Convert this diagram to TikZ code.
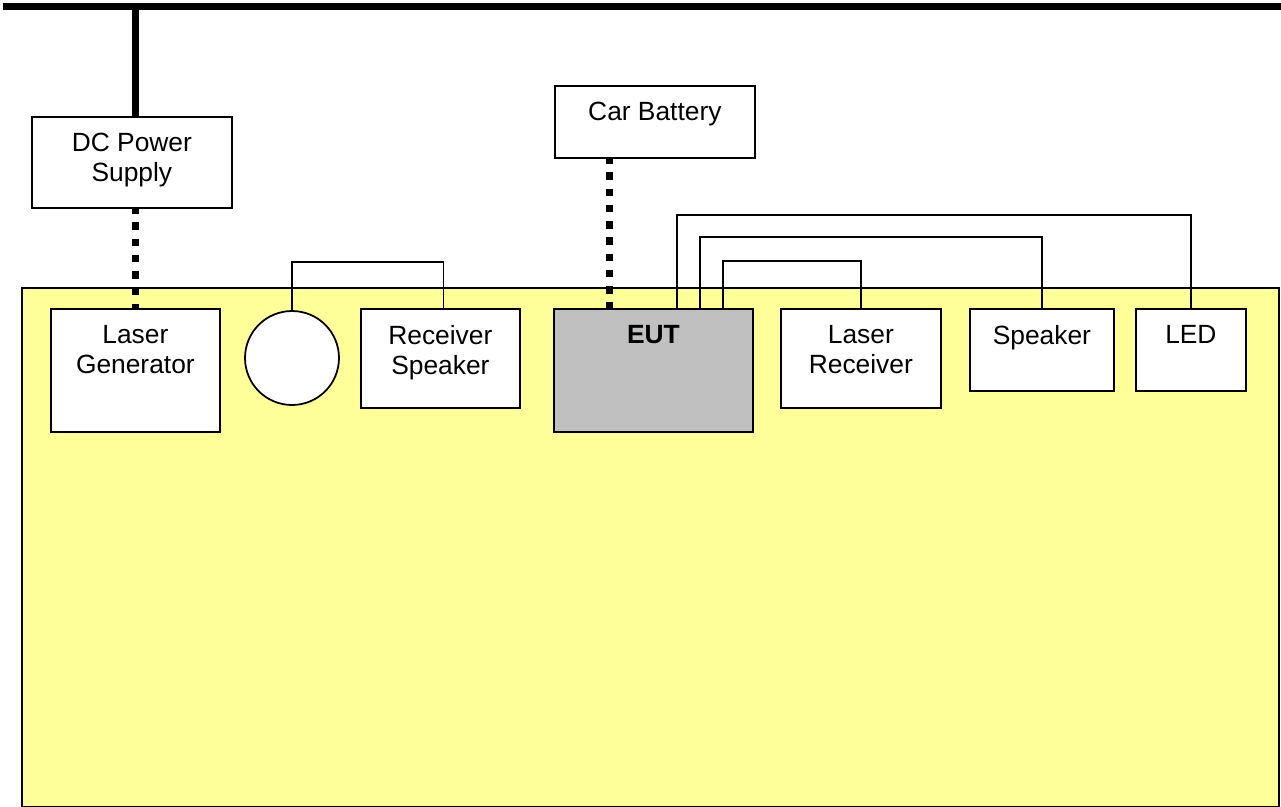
\documentclass[tikz,border=0pt]{standalone}
\usepackage{fontspec}
\setmainfont{Liberation Sans}
\usetikzlibrary{calc}
\definecolor{bench}{HTML}{FFFF99}
\definecolor{eutgray}{HTML}{C0C0C0}
\begin{document}
\begin{tikzpicture}[x=0.02cm,y=-0.02cm,
  box/.style={draw,line width=1pt,fill=white,inner sep=0,anchor=north west},
  lbl/.style={anchor=north,inner sep=0,align=center,font=\fontsize{15}{17}\selectfont},
  wire/.style={line width=0.8pt},
  bus/.style={line width=0.14cm},
  dotline/.style={line width=0.14cm,dash pattern=on 0.15cm off 0.175cm,dash phase=0.05cm}]
\useasboundingbox (0,0) rectangle (1281,807);
\fill[white] (0,0) rectangle (1281,807);
% test bench
\node[draw,fill=bench,line width=1pt,anchor=north west,inner sep=0,
  minimum width=25.14cm,minimum height=10.39cm] (bench) at (21,287) {};
% boxes
\node[box,minimum width=4cm,minimum height=1.82cm] (dc) at (31,116) {};
\node[box,minimum width=4cm,minimum height=1.44cm] (cb) at (554,85) {};
\node[box,minimum width=3.38cm,minimum height=2.46cm] (lg) at (50,308) {};
\node[draw,line width=1pt,fill=white,circle,inner sep=0,minimum size=1.88cm] (mic) at (292,358) {};
\node[box,minimum width=3.18cm,minimum height=1.98cm] (rs) at (360,308) {};
\node[box,fill=eutgray,minimum width=3.98cm,minimum height=2.46cm] (eut) at (553,308) {};
\node[box,minimum width=3.2cm,minimum height=1.98cm] (lr) at (780,308) {};
\node[box,minimum width=2.88cm,minimum height=1.64cm] (spk) at (969,308) {};
\node[box,minimum width=2.2cm,minimum height=1.64cm] (led) at (1135,308) {};
% labels
\node[lbl] (dct) at ([yshift=-0.34cm]dc.north) {DC Power\\Supply};
\node[lbl] (cbt) at ([yshift=-0.34cm]cb.north) {Car Battery};
\node[lbl] (lgt) at ([yshift=-0.34cm]lg.north) {Laser\\Generator};
\node[lbl] (rst) at ([yshift=-0.34cm]rs.north) {Receiver\\Speaker};
\node[lbl] (eutt) at ([yshift=-0.34cm]eut.north) {\textbf{EUT}};
\node[lbl] (lrt) at ([yshift=-0.34cm]lr.north) {Laser\\Receiver};
\node[lbl] (spkt) at ([yshift=-0.34cm]spk.north) {Speaker};
\node[lbl] (ledt) at ([yshift=-0.34cm]led.north) {LED};
% mains bus
\coordinate (busL) at (3,6.5);
\coordinate (busR) at (1281,6.5);
\draw[bus] (busL) -- (busR);
\draw[bus] (lg.north |- dc.north) -- (lg.north |- busL);
% dotted power lines
\draw[dotline] (lg.north |- dc.south) -- (lg.north);
\coordinate (e0) at ([xshift=1.14cm]eut.north west);
\draw[dotline] (e0 |- cb.south) -- (e0);
% signal wires
\coordinate (e1) at ([xshift=2.48cm]eut.north west);
\coordinate (e2) at ([xshift=2.94cm]eut.north west);
\coordinate (e3) at ([xshift=3.40cm]eut.north west);
\coordinate (h1) at (0,215);
\coordinate (h2) at (0,237);
\coordinate (h3) at (0,261);
\coordinate (h0) at (0,262);
\draw[wire] (e1) -- (e1 |- h1) -| (led.north);
\draw[wire] (e2) -- (e2 |- h2) -| (spk.north);
\draw[wire] (e3) -- (e3 |- h3) -| (lr.north);
\draw[wire] (mic.north) -- (mic.north |- h0) -| ([xshift=0.06cm]rs.north);
\end{tikzpicture}
\end{document}
